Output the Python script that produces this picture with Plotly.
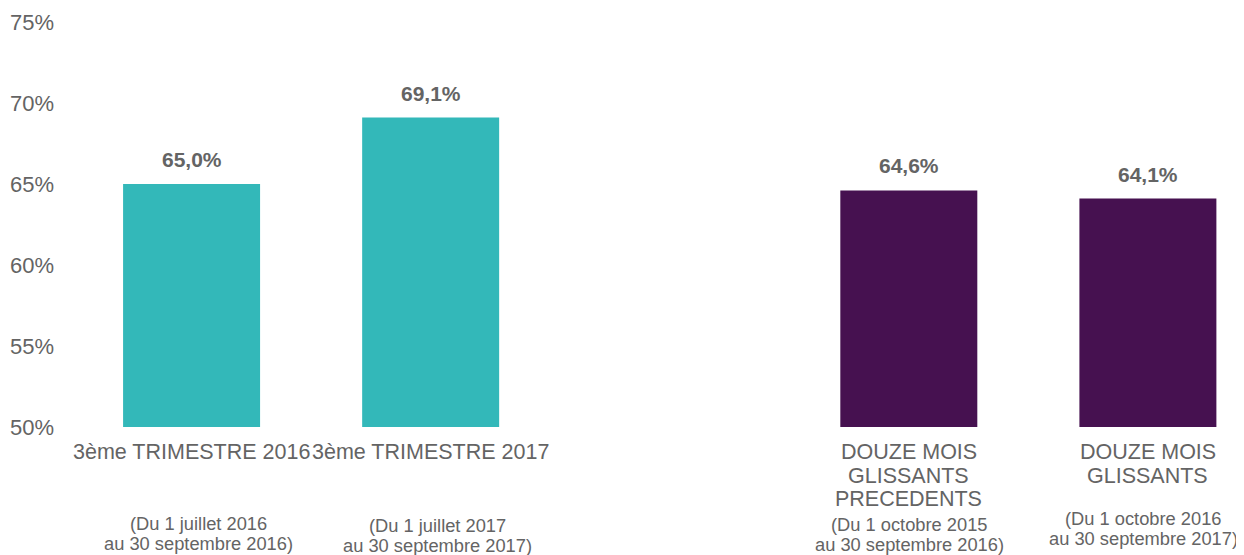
import plotly.graph_objects as go

categories = ["3ème TRIMESTRE 2016", "3ème TRIMESTRE 2017",
              "DOUZE MOIS<br>GLISSANTS<br>PRECEDENTS", "DOUZE MOIS<br>GLISSANTS"]
periods = ["(Du 1 juillet 2016<br>au 30 septembre 2016)",
           "(Du 1 juillet 2017<br>au 30 septembre 2017)",
           "(Du 1 octobre 2015<br>au 30 septembre 2016)",
           "(Du 1 octobre 2016<br>au 30 septembre 2017)"]
values = [65.0, 69.1, 64.6, 64.1]
value_labels = ["65,0%", "69,1%", "64,6%", "64,1%"]
slots = [0, 1, 3, 4]
colors = ["#33B8B9", "#33B8B9", "#461150", "#461150"]
y_ticks = [50, 55, 60, 65, 70, 75]
y_ticklabels = ["50%", "55%", "60%", "65%", "70%", "75%"]

GRAY = "#646464"
FONT = "Liberation Sans, Arial, sans-serif"

fig = go.Figure()
fig.add_trace(go.Bar(x=slots, y=values, marker=dict(color=colors, line=dict(width=0)),
                     width=0.573, hoverinfo="skip"))

annotations = []
for x, v, t in zip(slots, values, value_labels):
    annotations.append(dict(x=x, y=v, xref="x", yref="y", text="<b>%s</b>" % t,
                            showarrow=False, yanchor="bottom", yshift=11,
                            font=dict(family=FONT, size=21, color=GRAY)))

# category labels, one annotation per line for exact line spacing
main_first = 25
main_step = 23.7
sub_first = [96, 98, 97, 91]
sub_step = 20.5
sub_x = [7, 7, 1, -4]
for i, x in enumerate(slots):
    for k, line in enumerate(categories[i].split("<br>")):
        annotations.append(dict(x=x, y=0, xref="x", yref="paper", text=line,
                                showarrow=False, yanchor="middle",
                                yshift=-(main_first + k * main_step),
                                font=dict(family=FONT, size=21.5, color=GRAY)))
    for k, line in enumerate(periods[i].split("<br>")):
        annotations.append(dict(x=x, y=0, xref="x", yref="paper", text=line,
                                showarrow=False, yanchor="middle",
                                yshift=-(sub_first[i] + k * sub_step),
                                xshift=sub_x[i],
                                font=dict(family=FONT, size=18.3, color=GRAY)))

# page body has an 8px margin: figure drawn 8px smaller and shifted
fig.update_layout(
    width=1236, height=547,
    margin=dict(l=54, r=0, t=14, b=128),
    plot_bgcolor="white", paper_bgcolor="white",
    showlegend=False,
    annotations=annotations,
    xaxis=dict(range=[-0.542, 4.402], showticklabels=False, showgrid=False,
               zeroline=False, showline=False, fixedrange=True),
    yaxis=dict(range=[50, 75], tickvals=y_ticks, ticktext=y_ticklabels,
               showgrid=False, zeroline=False, showline=False,
               tickfont=dict(family=FONT, size=22, color=GRAY),
               ticklabelstandoff=7, fixedrange=True),
)

fig.write_html("out.html")
